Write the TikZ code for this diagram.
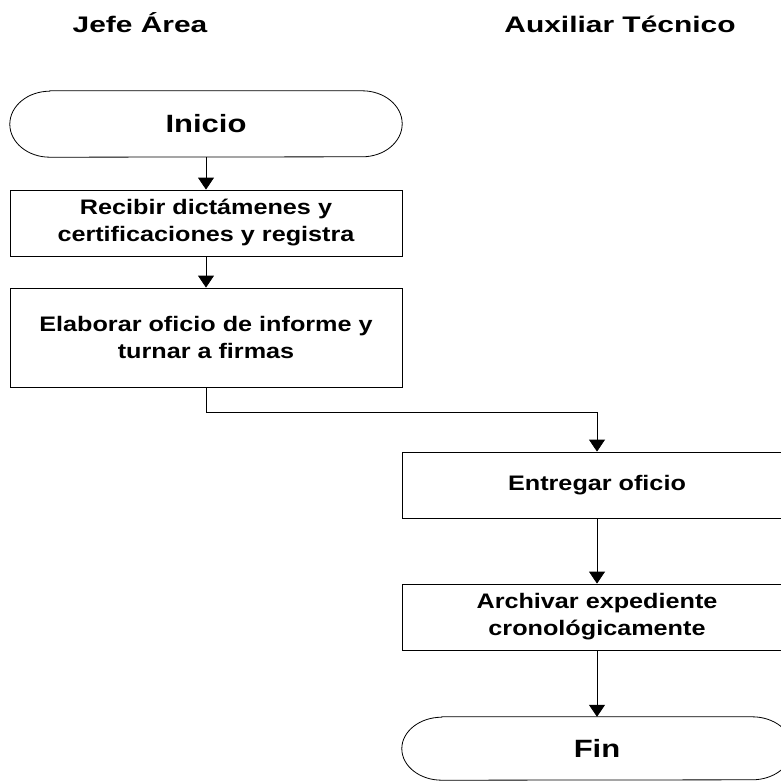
\documentclass[tikz,border=0pt]{standalone}
\usepackage{fontspec}
\setmainfont{Liberation Sans}
\newfontfamily\boxf{Liberation Sans}[FakeStretch=1.2]
\newfontfamily\hdrf{Liberation Sans}[FakeStretch=1.33]
\newfontfamily\termf{Liberation Sans}[FakeStretch=1.24]
\usetikzlibrary{arrows.meta}
\begin{document}
\begin{tikzpicture}[x=1pt,y=-1pt,
  thin line/.style={line width=0.8pt, black},
  arr/.style={thin line, -{Triangle[width=16pt,length=12pt]}},
  hdr/.style={font=\hdrf\fontsize{22.5}{28}\selectfont\bfseries, inner sep=0pt},
  stepbox/.style={draw, thin line, fill=white, minimum width=392pt, minimum height=66pt,
    inner sep=0pt, align=center, font=\boxf\fontsize{21}{27}\selectfont\bfseries},
  term/.style={minimum width=392pt, minimum height=66pt, inner sep=0pt,
    font=\termf\fontsize{25}{28}\selectfont\bfseries}
]
\useasboundingbox (0,0) rectangle (781,781);
\clip (0,0) rectangle (781,781);

% headers
\node[hdr, anchor=base] (h1) at (140,33) {Jefe Área};
\node[hdr, anchor=base] (h2) at (620,33) {Auxiliar Técnico};

% Inicio terminal
\node[term] (ini) at (206,124) {Inicio};
\draw[thin line] ([xshift=40pt]ini.north west) -- ([xshift=-40pt]ini.north east)
  arc[start angle=90,end angle=-90,x radius=40pt,y radius=33pt]
  -- ([xshift=40pt]ini.south west)
  arc[start angle=270,end angle=90,x radius=40pt,y radius=33pt] -- cycle;

\node[stepbox] (b1) at (206,223) {Recibir dictámenes y\\certificaciones y registra};
\node[stepbox, minimum height=99pt] (b2) at (206,337.5) {Elaborar oficio de informe y\\turnar a firmas};
\node[stepbox, minimum width=390pt] (b3) at (597,485) {Entregar oficio};
\node[stepbox, minimum width=390pt] (b4) at (597,617) {Archivar expediente\\cronológicamente};

% Fin terminal
\node[term, minimum width=390pt, minimum height=63pt] (fin) at (597,748.5) {Fin};
\draw[thin line] ([xshift=40pt]fin.north west) -- ([xshift=-40pt]fin.north east)
  arc[start angle=90,end angle=-90,x radius=40pt,y radius=31.5pt]
  -- ([xshift=40pt]fin.south west)
  arc[start angle=270,end angle=90,x radius=40pt,y radius=31.5pt] -- cycle;

% connectors
\coordinate (k) at (206,412);
\draw[arr] (ini.south) -- (b1.north);
\draw[arr] (b1.south) -- (b2.north);
\draw[arr] (b2.south) -- (k) -| (b3.north);
\draw[arr] (b3.south) -- (b4.north);
\draw[arr] (b4.south) -- (fin.north);
\end{tikzpicture}
\end{document}
